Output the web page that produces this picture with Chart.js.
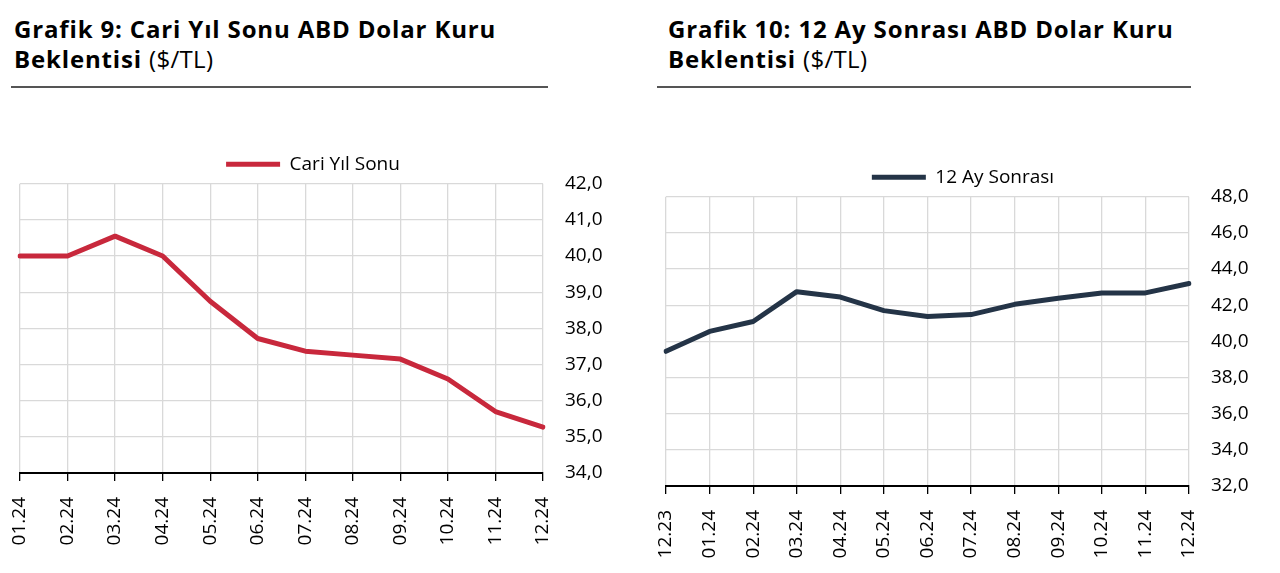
<!DOCTYPE html>
<html>
<head>
<meta charset="utf-8">
<script src="https://cdn.jsdelivr.net/npm/chart.js@4.4.1/dist/chart.umd.min.js"></script>
<style>
  html, body { margin: 0; padding: 0; background: #fff; }
  body { width: 1280px; height: 573px; position: relative; overflow: hidden; font-family: "Open Sans", "Noto Sans", sans-serif; }
  .title { position: absolute; top: 14px; font-size: 24px; line-height: 30px; color: #000; letter-spacing: 0.85px; white-space: nowrap; }
  .title b { font-weight: 700; }
  .title span { font-weight: 400; letter-spacing: 0.3px; }
  .rule { position: absolute; top: 86px; height: 2px; background: #555; }
  .wrap { position: absolute; }
</style>
</head>
<body>
<div class="title" style="left:14px;"><b>Grafik 9: Cari Yıl Sonu ABD Dolar Kuru<br>Beklentisi</b> <span>($/TL)</span></div>
<div class="rule" style="left:11px; width:537px;"></div>
<div class="title" style="left:668px;"><b>Grafik 10: 12 Ay Sonrası ABD Dolar Kuru<br>Beklentisi</b> <span>($/TL)</span></div>
<div class="rule" style="left:657px; width:534px;"></div>

<div class="wrap" style="left:0px; top:141px; width:606px; height:432px;"><canvas id="c1"></canvas></div>
<div class="wrap" style="left:640px; top:154px; width:620px; height:419px;"><canvas id="c2"></canvas></div>

<script>
const labels1 = ["01.24","02.24","03.24","04.24","05.24","06.24","07.24","08.24","09.24","10.24","11.24","12.24"];
const values1 = [40.0, 40.0, 40.55, 40.0, 38.75, 37.72, 37.37, 37.26, 37.15, 36.6, 35.7, 35.27];
const name1 = "Cari Yıl Sonu";

const labels2 = ["12.23","01.24","02.24","03.24","04.24","05.24","06.24","07.24","08.24","09.24","10.24","11.24","12.24"];
const values2 = [39.45, 40.55, 41.1, 42.75, 42.45, 41.7, 41.38, 41.48, 42.05, 42.38, 42.68, 42.68, 43.2];
const name2 = "12 Ay Sonrası";

const FONT = "'Open Sans', 'Noto Sans', sans-serif";

function makeChart(id, labels, values, name, color, yMin, yMax, yStep, padLeft, yWidth, xHeight) {
  return new Chart(document.getElementById(id), {
    type: 'line',
    data: {
      labels: labels,
      datasets: [{
        label: name,
        data: values,
        borderColor: color,
        backgroundColor: color,
        borderWidth: 5,
        pointRadius: 0,
        tension: 0,
        borderCapStyle: 'round',
        borderJoinStyle: 'round',
        pointStyle: 'line'
      }]
    },
    options: {
      responsive: true,
      maintainAspectRatio: false,
      animation: false,
      layout: { padding: { left: padLeft, right: 0, top: 0, bottom: 0 } },
      plugins: {
        tooltip: { enabled: false },
        legend: {
          display: true,
          position: 'top',
          labels: {
            usePointStyle: true,
            pointStyle: 'line',
            pointStyleWidth: 54,
            color: '#000',
            font: { family: FONT, size: 19 },
            padding: 13.75
          }
        }
      },
      scales: {
        x: {
          offset: false,
          grid: { color: '#d9d9d9', lineWidth: 1.3, tickColor: '#000', tickLength: 8, drawTicks: true },
          border: { display: true, color: '#000', width: 2 },
          ticks: {
            color: '#000',
            font: { family: FONT, size: 19 },
            maxRotation: 90, minRotation: 90,
            autoSkip: false,
            padding: 16
          },
          afterFit: (s) => { s.height = xHeight; }
        },
        y: {
          position: 'right',
          min: yMin, max: yMax,
          grid: { color: '#d9d9d9', lineWidth: 1.3, drawTicks: false },
          border: { display: false },
          ticks: {
            stepSize: yStep,
            color: '#000',
            font: { family: FONT, size: 19 },
            padding: 22,
            callback: (v) => v.toFixed(1).replace('.', ',')
          },
          afterFit: (s) => { s.width = yWidth; }
        }
      }
    }
  });
}

makeChart('c1', labels1, values1, name1, '#c8283c', 34, 42, 1, 20, 63, 100);
makeChart('c2', labels2, values2, name2, '#243447', 32, 48, 2, 26, 71, 87);
</script>
</body>
</html>
